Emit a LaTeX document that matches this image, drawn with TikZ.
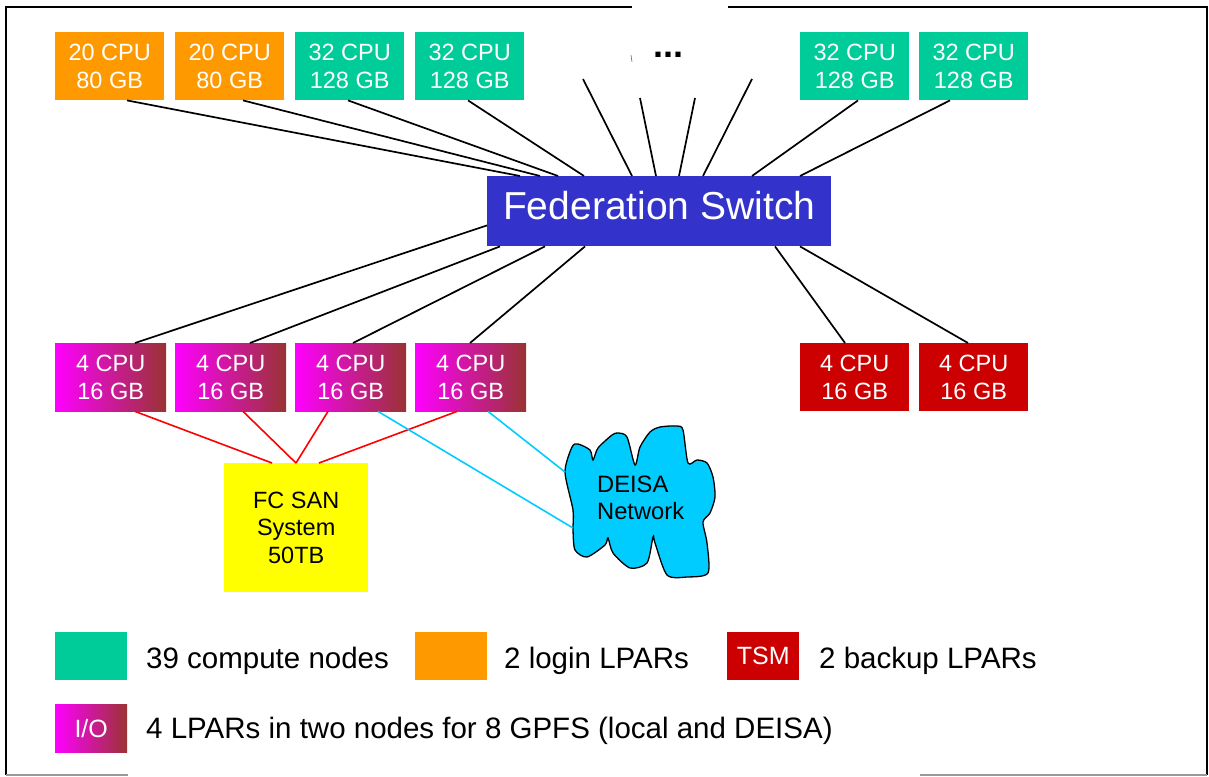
\documentclass[tikz,border=0pt]{standalone}
\usepackage{fontspec}
\setmainfont{Liberation Sans}
\definecolor{orangeC}{HTML}{FF9900}
\definecolor{tealC}{HTML}{00CC99}
\definecolor{magC}{HTML}{FF00FF}
\definecolor{brownC}{HTML}{993333}
\definecolor{redC}{HTML}{CC0000}
\definecolor{blueC}{HTML}{3333CC}
\definecolor{cyanC}{HTML}{00CCFF}
\definecolor{yellowC}{HTML}{FFFF00}
\definecolor{sanline}{HTML}{FF0000}
\definecolor{bordergray}{HTML}{999999}
\tikzset{
  box/.style={inner sep=0pt, minimum width=109pt, minimum height=68pt, anchor=north west,
    text=white, align=center, font=\fontsize{23.5}{28}\selectfont},
  loginbox/.style={box, fill=orangeC},
  compbox/.style={box, fill=tealC},
  iobox/.style={box, minimum width=111pt, left color=magC, right color=brownC},
  tsmbox/.style={box, fill=redC},
  link/.style={black, line width=1.7pt},
  sanlink/.style={sanline, line width=1.6pt},
  deisalink/.style={cyanC, line width=1.6pt},
  frameline/.style={black, line width=1.8pt},
  framegray/.style={bordergray, line width=1.2pt},
  legsq/.style={inner sep=0pt, minimum width=72pt, minimum height=48pt, anchor=north west,
    text=white, font=\fontsize{25}{28}\selectfont},
  legtext/.style={inner sep=0pt, anchor=base west, font=\fontsize{29.5}{34}\selectfont},
}
\begin{document}
\begin{tikzpicture}[x=1pt,y=-1pt]
\useasboundingbox (0,0) rectangle (1209,776);
% frame
\draw[frameline] (632,7) -- (6,7) -- (6,775);
\draw[frameline] (728,7) -- (1207,7) -- (1207,775);
\draw[framegray] (6,775) -- (128,775);
\draw[framegray] (920,775) -- (1207,775);

% top row
\node[loginbox] (t1) at (55,32) {20 CPU\\80 GB};
\node[loginbox] (t2) at (175,32) {20 CPU\\80 GB};
\node[compbox] (t3) at (295,32) {32 CPU\\128 GB};
\node[compbox] (t4) at (415,32) {32 CPU\\128 GB};
\node[compbox] (t5) at (800,32) {32 CPU\\128 GB};
\node[compbox] (t6) at (919,32) {32 CPU\\128 GB};
\node[inner sep=0pt, anchor=base, font=\fontsize{36}{40}\selectfont\bfseries] (dots) at (668,57) {...};
\coordinate (tick1) at (631,55);
\coordinate (tick2) at (632,62);
\draw[black!60, line width=0.6pt] (tick1) -- (tick2);

% switch
\node[inner sep=0pt, minimum width=344pt, minimum height=70pt, anchor=north west, fill=blueC,
  text=white, text depth=12pt, font=\fontsize{39}{44}\selectfont] (sw) at (487,176) {Federation Switch};

% bottom row
\node[iobox] (b1) at (55,343) {4 CPU\\16 GB};
\node[iobox] (b2) at (175,343) {4 CPU\\16 GB};
\node[iobox] (b3) at (295,343) {4 CPU\\16 GB};
\node[iobox] (b4) at (415,343) {4 CPU\\16 GB};
\node[tsmbox] (r1) at (800,343) {4 CPU\\16 GB};
\node[tsmbox] (r2) at (919,343) {4 CPU\\16 GB};

% SAN
\node[inner sep=0pt, minimum width=144pt, minimum height=129pt, anchor=north west, fill=yellowC,
  align=center, font=\fontsize{23.5}{27.5}\selectfont] (san) at (224,463) {FC SAN\\System\\50TB};

% cloud
\draw[fill=cyanC, line width=1.3pt] plot[smooth cycle, tension=0.45] coordinates {
  (565,472) (572,447) (578,444) (590,450) (593,460) (598,448) (612,435) (618,433)
  (627,437) (635,465) (640,447) (650,432) (660,427) (677,426) (683,430) (688,463)
  (697,460) (707,463) (713,477) (715,497) (710,513) (703,522) (707,543) (708,573)
  (687,577) (667,575) (655,543) (653,537) (647,563) (630,568) (613,553) (608,538)
  (605,545) (587,557) (575,550) (573,530) (573,510)};
\node[inner sep=0pt, anchor=west, align=left, font=\fontsize{23.7}{27}\selectfont] (deisa) at (597,498) {DEISA\\Network};
\coordinate (c1) at (565,472);
\coordinate (c2) at (573,528);

% top connectors
\draw[link] ([xshift=72pt]t1.south west) -- ([xshift=33pt]sw.north west);
\draw[link] ([xshift=68pt]t2.south west) -- ([xshift=53pt]sw.north west);
\draw[link] ([xshift=53pt]t3.south west) -- ([xshift=71pt]sw.north west);
\draw[link] ([xshift=53pt]t4.south west) -- ([xshift=97pt]sw.north west);
\draw[link] ([xshift=58pt]t5.south west) -- ([xshift=265pt]sw.north west);
\draw[link] ([xshift=31pt]t6.south west) -- ([xshift=313pt]sw.north west);
\coordinate (f1) at (583,79);
\coordinate (f2) at (640,98);
\coordinate (f3) at (695,98);
\coordinate (f4) at (752,79);
\draw[link] (f1) -- ([xshift=145pt]sw.north west);
\draw[link] (f2) -- ([xshift=169pt]sw.north west);
\draw[link] (f3) -- ([xshift=192pt]sw.north west);
\draw[link] (f4) -- ([xshift=216pt]sw.north west);

% bottom connectors
\draw[link] ([xshift=80pt]b1.north west) -- ([yshift=21pt]sw.south west);
\draw[link] ([xshift=75pt]b2.north west) -- ([xshift=13pt]sw.south west);
\draw[link] ([xshift=58pt]b3.north west) -- ([xshift=58pt]sw.south west);
\draw[link] ([xshift=55pt]b4.north west) -- ([xshift=98pt]sw.south west);
\draw[link] ([xshift=45pt]r1.north west) -- ([xshift=288pt]sw.south west);
\draw[link] ([xshift=49pt]r2.north west) -- ([xshift=313pt]sw.south west);

% SAN connectors
\draw[sanlink] ([xshift=80pt]b1.south west) -- ([xshift=48pt]san.north west);
\draw[sanlink] ([xshift=68pt]b2.south west) -- ([xshift=72pt]san.north west);
\draw[sanlink] ([xshift=33pt]b3.south west) -- ([xshift=72pt]san.north west);
\draw[sanlink] ([xshift=42pt]b4.south west) -- ([xshift=95pt]san.north west);

% DEISA connectors
\draw[deisalink] ([xshift=83pt]b3.south west) -- (c2);
\draw[deisalink] ([xshift=73pt]b4.south west) -- (c1);

% legend
\node[legsq, fill=tealC] (lg1) at (55,632) {};
\node[legtext] (lt1) at (146,668) {39 compute nodes};
\node[legsq, fill=orangeC] (lg2) at (415,632) {};
\node[legtext] (lt2) at (504,668) {2 login LPARs};
\node[legsq, fill=redC] (lg3) at (727,632) {TSM};
\node[legtext] (lt3) at (819,668) {2 backup LPARs};
\node[legsq, left color=magC, right color=brownC] (lg4) at (55,704) {I/O};
\node[legtext] (lt4) at (146,738) {4 LPARs in two nodes for 8 GPFS (local and DEISA)};
\end{tikzpicture}
\end{document}
